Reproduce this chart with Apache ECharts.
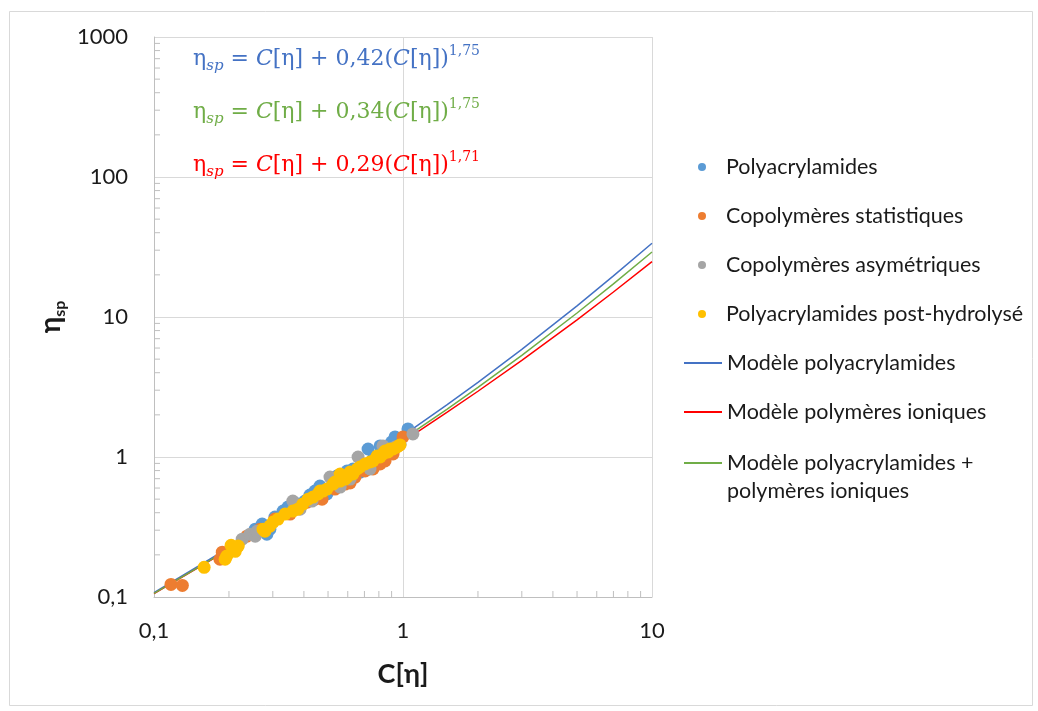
<!DOCTYPE html>
<html>
<head>
<meta charset="utf-8">
<script src="https://cdn.jsdelivr.net/npm/echarts@6/dist/echarts.min.js"></script>
<style>html,body{margin:0;padding:0;background:#fff}#c{width:1038px;height:711px}</style>
</head>
<body>
<div id="c"></div>
<script>
// ---- data ----
const polyX = [0.255,0.272,0.284,0.292,0.306,0.330,0.345,0.368,0.386,0.404,0.423,0.443,0.456,0.464,0.495,0.509,0.524,0.543,0.574,0.596,0.613,0.630,0.654,0.672,0.691,0.724,0.758,0.794,0.809,0.847,0.887,0.900,0.929,0.973,1.047];
const polyY = [0.305,0.332,0.281,0.305,0.372,0.411,0.439,0.469,0.461,0.484,0.535,0.571,0.526,0.620,0.544,0.590,0.641,0.731,0.696,0.794,0.696,0.821,0.768,0.781,0.877,1.141,0.968,1.000,1.199,1.104,1.179,1.280,1.391,1.239,1.586];

const statX = [0.117,0.130,0.184,0.188,0.236,0.267,0.306,0.352,0.386,0.412,0.443,0.473,0.533,0.585,0.613,0.642,0.704,0.758,0.809,0.847,0.912,0.955,1.000];
const statY = [0.123,0.121,0.186,0.209,0.272,0.305,0.360,0.391,0.439,0.476,0.500,0.500,0.590,0.641,0.652,0.719,0.794,0.821,0.891,0.936,1.051,1.199,1.391];

const asymX = [0.226,0.243,0.255,0.259,0.292,0.361,0.386,0.431,0.509,0.559,0.613,0.660,0.737,0.831,0.929,1.096];
const asymY = [0.259,0.281,0.272,0.295,0.321,0.484,0.424,0.484,0.719,0.610,0.696,1.000,0.821,1.199,1.179,1.461];

const hydroX = [0.159,0.193,0.196,0.204,0.212,0.218,0.274,0.279,0.292,0.301,0.315,0.336,0.361,0.378,0.396,0.416,0.435,0.456,0.464,0.477,0.495,0.524,0.533,0.559,0.559,0.585,0.596,0.613,0.630,0.654,0.672,0.704,0.737,0.758,0.787,0.809,0.831,0.847,0.871,0.887,0.912,0.946,0.973];
const hydroY = [0.163,0.186,0.196,0.234,0.212,0.231,0.305,0.295,0.321,0.343,0.360,0.391,0.411,0.424,0.461,0.500,0.517,0.544,0.571,0.571,0.590,0.641,0.662,0.673,0.756,0.696,0.719,0.781,0.756,0.821,0.848,0.891,0.921,0.936,1.017,1.000,1.051,1.104,1.086,1.141,1.141,1.179,1.219];

const modelX     = [0.1,0.15,0.2,0.3,0.5,0.7,1,1.5,2,3,5,7,10];
const modelPolyY = [0.1075,0.1652,0.2251,0.3511,0.6249,0.925,1.42,2.354,3.413,5.872,12.02,19.65,33.62];
const modelIonY  = [0.1057,0.1613,0.2185,0.3370,0.5887,0.8576,1.29,2.08,2.949,4.898,9.547,15.08,24.87];
const modelMixY  = [0.1060,0.1623,0.2203,0.3413,0.6011,0.8821,1.34,2.191,3.144,5.325,10.68,17.24,29.12];

const xMinorTicks = [0.2,0.3,0.4,0.5,0.6,0.7,0.8,0.9,2,3,4,5,6,7,8,9];
const yMinorTicks = [0.2,0.3,0.4,0.5,0.6,0.7,0.8,0.9,2,3,4,5,6,7,8,9,20,30,40,50,60,70,80,90,200,300,400,500,600,700,800,900];

const seriesNames = ['Polyacrylamides','Copolymères statistiques','Copolymères asymétriques','Polyacrylamides post-hydrolysé','Modèle polyacrylamides','Modèle polymères ioniques','Modèle polyacrylamides + polymères ioniques'];

const equations = [
  {k:'0,42', a:'1,75', color:'#4472C4'},
  {k:'0,34', a:'1,75', color:'#70AD47'},
  {k:'0,29', a:'1,71', color:'#FF0000'}
];

// ---- helpers ----
const zip = (xs, ys) => xs.map((x, i) => [x, ys[i]]);
const fmt = v => String(v).replace('.', ',');
const FONT = 'Lato';
const TXT = '#1a1a1a';
const GRID = '#D9D9D9';
const AXIS = '#BFBFBF';

const eqFont = 'DejaVu Serif';
function eqRich(color) {
  return {
    m: {fontFamily: eqFont, fontSize: 22, fill: color, lineHeight: 30},
    i: {fontFamily: eqFont, fontSize: 22, fontStyle: 'italic', fill: color, lineHeight: 30},
    sub: {fontFamily: eqFont, fontSize: 15, fontStyle: 'italic', fill: color, lineHeight: 16, verticalAlign: 'bottom'},
    sup: {fontFamily: eqFont, fontSize: 14, fill: color, lineHeight: 16, verticalAlign: 'top'}
  };
}
const eqGraphics = equations.map((e, idx) => ({
  type: 'text', left: 193, top: 44 + idx * 53, z: 100,
  style: {
    text: '{m|η}{sub|sp}{m| = }{i|C}{m|[η] + ' + e.k + '(}{i|C}{m|[η])}{sup|' + e.a + '}',
    fill: e.color,
    rich: eqRich(e.color)
  }
}));

const legendText = {fontFamily: FONT, fontSize: 21.5, color: TXT, lineHeight: 28};

const chart = echarts.init(document.getElementById('c'));
chart.setOption({
  animation: false,
  backgroundColor: '#fff',
  grid: {left: 154, top: 37, width: 498, height: 560, containLabel: false},
  xAxis: {
    type: 'log', logBase: 10, min: 0.1, max: 10, splitNumber: 2,
    axisLine: {show: true, lineStyle: {color: AXIS, width: 1}},
    axisTick: {show: false},
    axisLabel: {formatter: fmt, fontFamily: FONT, fontSize: 22, color: TXT, margin: 23},
    splitLine: {show: true, lineStyle: {color: GRID, width: 1}},
    name: 'C[η]', nameLocation: 'middle', nameGap: 64,
    nameTextStyle: {fontFamily: FONT, fontSize: 27, fontWeight: 'bold', color: TXT}
  },
  yAxis: {
    type: 'log', logBase: 10, min: 0.1, max: 1000, splitNumber: 4,
    axisLine: {show: true, lineStyle: {color: AXIS, width: 1}},
    axisTick: {show: false},
    axisLabel: {formatter: fmt, fontFamily: FONT, fontSize: 22, color: TXT, margin: 26},
    splitLine: {show: true, lineStyle: {color: GRID, width: 1}},
    name: '{a|η}{b|sp}', nameLocation: 'middle', nameGap: 86, nameRotate: 90,
    nameTextStyle: {
      rich: {
        a: {fontFamily: FONT, fontSize: 28, fontWeight: 'bold', color: TXT, lineHeight: 34},
        b: {fontFamily: FONT, fontSize: 16, fontWeight: 'bold', color: TXT, lineHeight: 20, verticalAlign: 'bottom'}
      }
    }
  },
  legend: [
    {
      data: seriesNames.slice(0, 4), orient: 'vertical', left: 698, top: 153, padding: 0,
      itemWidth: 38, itemHeight: 8, itemGap: 21,
      textStyle: legendText
    },
    {
      data: seriesNames.slice(4, 6), orient: 'vertical', left: 684, top: 349, padding: 0,
      itemWidth: 38, itemHeight: 2, itemGap: 21, icon: 'rect',
      textStyle: legendText
    },
    {
      data: [seriesNames[6]], orient: 'vertical', left: 684, top: 421, padding: 0,
      itemWidth: 38, itemHeight: 2, icon: 'rect',
      formatter: () => '\nModèle polyacrylamides +\npolymères ioniques',
      textStyle: legendText
    }
  ],
  graphic: [
    {type: 'rect', left: 7, top: 9, z: -10, shape: {width: 1023, height: 694}, style: {fill: 'none', stroke: GRID, lineWidth: 1}}
  ].concat(eqGraphics),
  series: [
    {
      type: 'custom', silent: true, z: 1,
      data: xMinorTicks.map(v => [v, 0.1]),
      encode: {x: 0, y: 1},
      renderItem: (params, api) => {
        const p = api.coord([api.value(0), api.value(1)]);
        return {type: 'line', shape: {x1: p[0], y1: p[1], x2: p[0], y2: p[1] - 6}, style: {stroke: AXIS, lineWidth: 1}};
      }
    },
    {
      type: 'custom', silent: true, z: 1,
      data: yMinorTicks.map(v => [0.1, v]),
      encode: {x: 0, y: 1},
      renderItem: (params, api) => {
        const p = api.coord([api.value(0), api.value(1)]);
        return {type: 'line', shape: {x1: p[0], y1: p[1], x2: p[0] + 6, y2: p[1]}, style: {stroke: AXIS, lineWidth: 1}};
      }
    },
    {name: seriesNames[4], type: 'line', z: 2, symbol: 'none', data: zip(modelX, modelPolyY), lineStyle: {color: '#4472C4', width: 1.5}, itemStyle: {color: '#4472C4'}},
    {name: seriesNames[5], type: 'line', z: 2, symbol: 'none', data: zip(modelX, modelIonY), lineStyle: {color: '#FF0000', width: 1.5}, itemStyle: {color: '#FF0000'}},
    {name: seriesNames[6], type: 'line', z: 2, symbol: 'none', data: zip(modelX, modelMixY), lineStyle: {color: '#70AD47', width: 1.5}, itemStyle: {color: '#70AD47'}},
    {name: seriesNames[0], type: 'scatter', z: 3, symbol: 'circle', symbolSize: 13, data: zip(polyX, polyY), itemStyle: {color: '#5B9BD5', opacity: 1}},
    {name: seriesNames[1], type: 'scatter', z: 3, symbol: 'circle', symbolSize: 13, data: zip(statX, statY), itemStyle: {color: '#ED7D31', opacity: 1}},
    {name: seriesNames[2], type: 'scatter', z: 3, symbol: 'circle', symbolSize: 13, data: zip(asymX, asymY), itemStyle: {color: '#A5A5A5', opacity: 1}},
    {name: seriesNames[3], type: 'scatter', z: 3, symbol: 'circle', symbolSize: 13, data: zip(hydroX, hydroY), itemStyle: {color: '#FFC000', opacity: 1}}
  ]
});
</script>
</body>
</html>
